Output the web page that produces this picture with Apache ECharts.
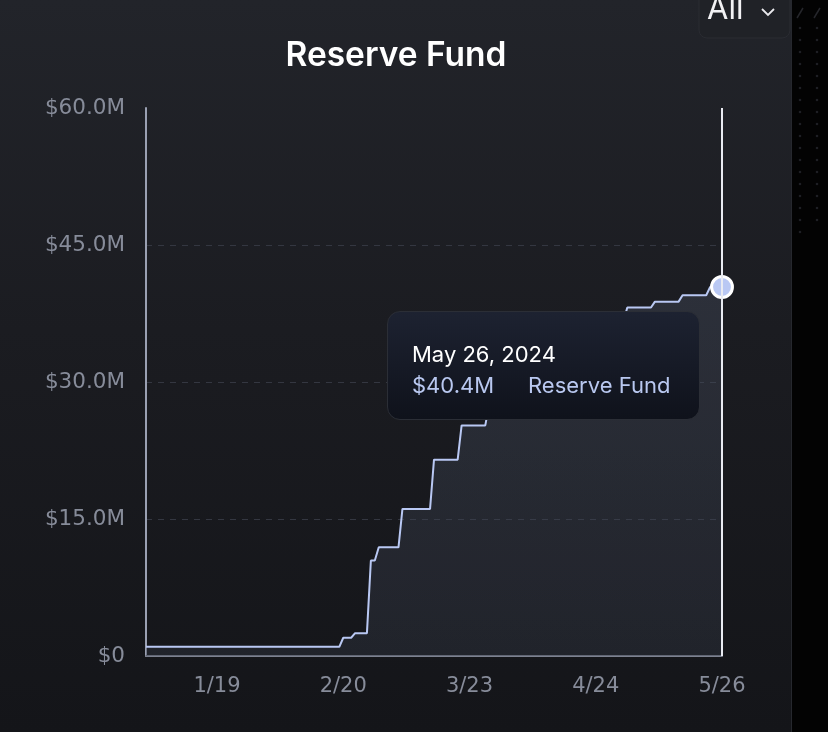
<!DOCTYPE html>
<html>
<head>
<meta charset="utf-8">
<script src="https://cdn.jsdelivr.net/npm/echarts@6/dist/echarts.min.js"></script>
<style>
  html, body { margin: 0; padding: 0; background: #030303; }
  #wrap { position: relative; width: 828px; height: 732px; overflow: hidden; background: #030303; }
  #card { position: absolute; left: 0; top: 0; width: 791px; height: 732px;
          background: linear-gradient(180deg, #22242a 0%, #1b1c21 45%, #141519 100%);
          border-right: 1px solid #26282e; }
  #chart { position: absolute; left: 0; top: 0; width: 828px; height: 732px; }
</style>
</head>
<body>
<div id="wrap">
  <div id="card"></div>
  <div id="chart"></div>
</div>
<script>
// ---- data ----
const dates = ['2024-01-01','2024-02-19','2024-02-20','2024-02-22','2024-02-23','2024-02-26','2024-02-27',
  '2024-02-28','2024-02-29','2024-03-05','2024-03-06','2024-03-13','2024-03-14','2024-03-20','2024-03-21',
  '2024-03-27','2024-03-28','2024-04-02','2024-04-03','2024-04-15','2024-04-16','2024-05-01','2024-05-02',
  '2024-05-08','2024-05-09','2024-05-15','2024-05-16','2024-05-22','2024-05-23','2024-05-26'];
const values = [1.0, 1.0, 2.0, 2.0, 2.5, 2.5, 10.45,
  10.45, 11.9, 11.9, 16.1, 16.1, 21.5, 21.5, 25.25,
  25.25, 27.6, 27.6, 33.0, 33.0, 36.65, 36.65, 38.15,
  38.15, 38.8, 38.8, 39.5, 39.5, 40.4, 40.4];
const xTickLabels = ['2024-01-19','2024-02-20','2024-03-23','2024-04-24','2024-05-26'];
const yTicks = [0, 15, 30, 45, 60];
const seriesName = 'Reserve Fund';

const DAY = 86400000;
function ts(s) { const p = s.split('-').map(Number); return Date.UTC(p[0], p[1]-1, p[2]); }
const T0 = ts(dates[0]);
function dayIdx(s) { return Math.round((ts(s) - T0) / DAY); }
function dayToDate(n) { return new Date(T0 + n * DAY); }
const MONTHS = ['Jan','Feb','Mar','Apr','May','Jun','Jul','Aug','Sep','Oct','Nov','Dec'];

const seriesData = dates.map((d, i) => {
  const item = { value: [dayIdx(d), values[i]] };
  if (i === dates.length - 1) { item.symbol = 'circle'; item.symbolSize = 19; }
  return item;
});

const FONT = 'Inter, "Noto Sans", sans-serif';
const AXFONT = '"DejaVu Sans", sans-serif';
const chart = echarts.init(document.getElementById('chart'), null, { renderer: 'canvas' });

// decorative dots on right strip
const deco = [];
for (let r = 0; r < 18; r++) {
  for (let c = 0; c < 2; c++) {
    if (r === 17 && c === 1) continue;
    deco.push({ type: 'circle', shape: { cx: 800 + c * 17, cy: 28 + r * 12, r: 1.3 }, style: { fill: '#1e1f24' }, silent: true });
  }
}
deco.push({ type: 'line', shape: { x1: 797, y1: 18, x2: 803, y2: 8 }, style: { stroke: '#25262b', lineWidth: 1.5 }, silent: true });
deco.push({ type: 'line', shape: { x1: 814, y1: 18, x2: 820, y2: 8 }, style: { stroke: '#25262b', lineWidth: 1.5 }, silent: true });

chart.setOption({
  animation: false,
  textStyle: { fontFamily: FONT },
  title: {
    text: 'Reserve Fund',
    left: 391, textAlign: 'center', top: 34,
    textStyle: { color: '#ffffff', fontSize: 33.5, fontWeight: 600, fontFamily: FONT }
  },
  graphic: [
    { type: 'rect', shape: { x: 699, y: -12, width: 91, height: 50, r: 8 },
      style: { fill: '#202227', stroke: '#2a2c32', lineWidth: 1 }, silent: true },
    { type: 'text', left: 707, top: -6,
      style: { text: 'All', fill: '#f2f2f4', fontSize: 31, fontFamily: FONT, fontWeight: 400 }, silent: true },
    { type: 'polyline', shape: { points: [[762, 9], [768, 15], [774, 9]] },
      style: { stroke: '#e8e8ec', lineWidth: 1.8, fill: null }, silent: true },
    ...deco
  ],
  grid: { left: 146, right: 106, top: 108, bottom: 76, containLabel: false },
  xAxis: {
    type: 'value',
    min: 0, max: dayIdx(dates[dates.length - 1]),
    axisLine: { show: true, lineStyle: { color: '#7d8291', width: 2 } },
    axisTick: { show: false },
    splitLine: { show: false },
    axisLabel: {
      customValues: xTickLabels.map(dayIdx),
      color: '#878c9a', fontSize: 21, margin: 20, fontFamily: AXFONT,
      formatter: v => { const d = dayToDate(v); return (d.getUTCMonth() + 1) + '/' + d.getUTCDate(); }
    }
  },
  yAxis: {
    type: 'value', min: yTicks[0], max: yTicks[yTicks.length - 1], interval: 15,
    axisLine: { show: true, lineStyle: { color: '#9aa0b2', width: 2 } },
    axisTick: { show: false },
    splitLine: { show: true, showMaxLine: false, showMinLine: false, lineStyle: { color: '#343741', type: [6, 6], width: 1 } },
    axisLabel: {
      color: '#878c9a', fontSize: 21.5, margin: 21, fontFamily: AXFONT, padding: [5, 0, 0, 0],
      formatter: v => v === 0 ? '$0' : '$' + v.toFixed(1) + 'M'
    }
  },
  tooltip: {
    trigger: 'axis',
    alwaysShowContent: true,
    transitionDuration: 0,
    position: [387, 311],
    padding: 0,
    backgroundColor: 'transparent',
    borderWidth: 0,
    extraCssText: 'box-shadow:none;',
    axisPointer: { type: 'line', lineStyle: { color: '#e9ebf2', width: 2, type: 'solid' }, label: { show: false } },
    formatter: params => {
      const p = params[0];
      const d = dayToDate(p.value[0]);
      const dateStr = MONTHS[d.getUTCMonth()] + ' ' + d.getUTCDate() + ', ' + d.getUTCFullYear();
      return '<div style="box-sizing:border-box;width:313px;height:109px;padding:27px 24px 0 24px;' +
        'border-radius:13px;border:1.5px solid #2b2e36;background:linear-gradient(180deg,#1d2231 0%,#0f121b 100%);' +
        'font-family:Inter, \'Noto Sans\', sans-serif;">' +
        '<div style="color:#ffffff;font-size:22px;line-height:30px;">' + dateStr + '</div>' +
        '<div style="color:#b9c8f0;font-size:22px;line-height:32px;">' +
        '<span style="display:inline-block;width:116px;">$' + p.value[1].toFixed(1) + 'M</span>' + p.seriesName + '</div></div>';
    }
  },
  series: [{
    name: seriesName,
    type: 'line',
    symbol: 'none',
    showSymbol: true,
    data: seriesData,
    lineStyle: { color: '#b9c8f3', width: 2 },
    itemStyle: { color: '#b9c8f3', borderColor: '#ffffff', borderWidth: 3 },
    emphasis: { disabled: true },
    areaStyle: {
      color: new echarts.graphic.LinearGradient(0, 0, 0, 1, [
        { offset: 0, color: 'rgba(72,80,98,0.55)' },
        { offset: 1, color: 'rgba(52,57,70,0.55)' }
      ])
    },
    z: 3
  }]
});

chart.dispatchAction({ type: 'showTip', seriesIndex: 0, dataIndex: dates.length - 1 });
</script>
</body>
</html>
